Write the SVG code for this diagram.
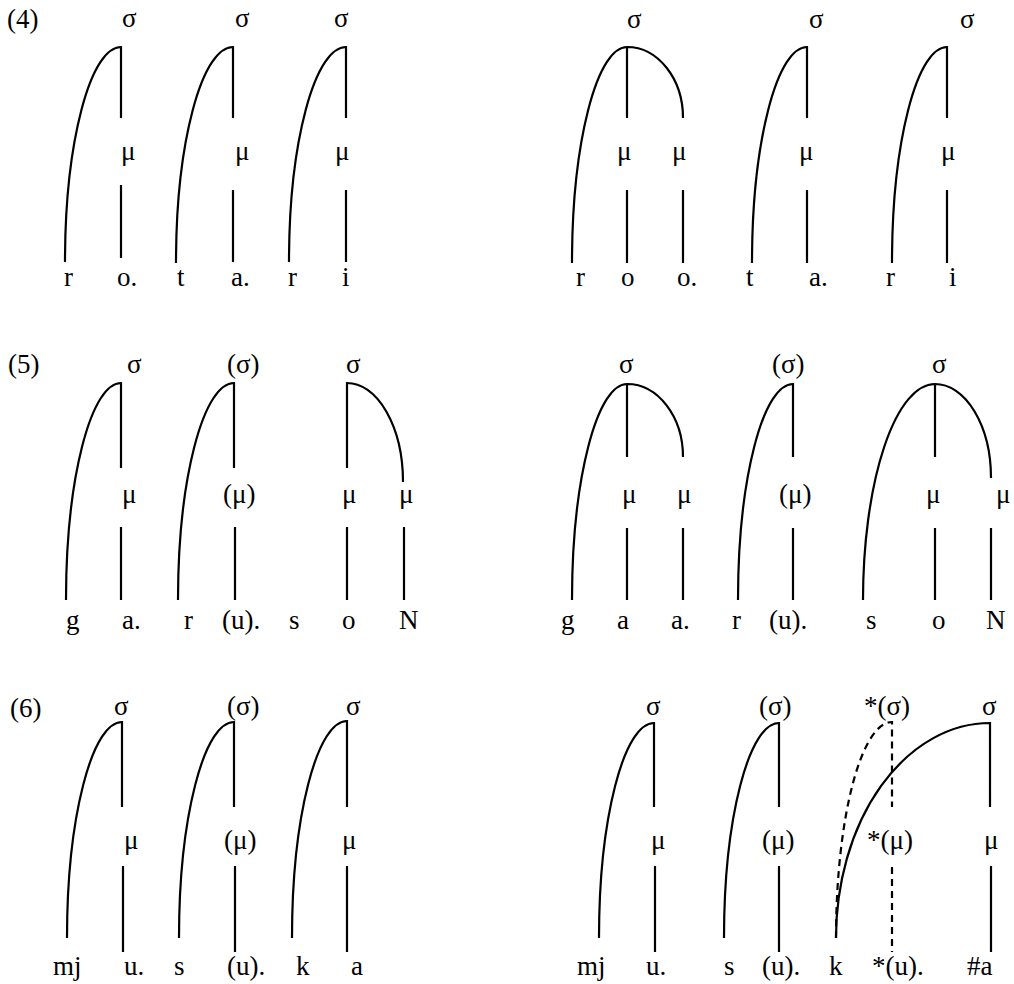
<svg xmlns="http://www.w3.org/2000/svg" width="1014" height="984" viewBox="0 0 1014 984">
  <style>
    text { font-family: "Liberation Serif", "Times New Roman", serif; font-size: 27px; fill: #000; }
    .ln { stroke: #000; stroke-width: 2.2; fill: none; }
    .ds { stroke-dasharray: 7 5; }
  </style>
  <rect width="1014" height="984" fill="#fff"/>

  <!-- association lines -->
  <g id="connectors">
    <!-- (4) left: ro.ta.ri -->
    <path class="ln" d="M65,262 A56,215 0 0 1 121,47 V118 M121,185 V258"/>
    <path class="ln" d="M176,263 A57,216 0 0 1 233,47 V118 M233,190 V262"/>
    <path class="ln" d="M289,262 A57,215 0 0 1 346,47 V118 M346,190 V262"/>
    <!-- (4) right: roo.ta.ri -->
    <path class="ln" d="M572,263 A55,216 0 0 1 627,47 A56,71 0 0 1 683,118 M627,47 V118 M627,190 V263 M683,190 V263"/>
    <path class="ln" d="M752,263 A55,216 0 0 1 807,47 V118 M807,190 V263"/>
    <path class="ln" d="M892,263 A55,216 0 0 1 947,47 V118 M947,190 V263"/>

    <!-- (5) left: ga.r(u).soN -->
    <path class="ln" d="M66,600 A55,217 0 0 1 121,383 V468 M121,527 V600"/>
    <path class="ln" d="M178,600 A56,217 0 0 1 234,383 V468 M235,527 V600"/>
    <path class="ln" d="M347,468 V383 A56,99 0 0 1 403,482 M347,527 V600 M404,527 V600"/>
    <!-- (5) right: gaa.r(u).soN -->
    <path class="ln" d="M572,600 A55,216 0 0 1 627,384 A56,73 0 0 1 683,457 M627,384 V457 M627,528 V600 M683,528 V600"/>
    <path class="ln" d="M738,600 A55,216 0 0 1 793,384 V457 M793,528 V600"/>
    <path class="ln" d="M863,600 A72,216 0 0 1 935,384 A56,94 0 0 1 991,478 M935,384 V457 M935,528 V600 M991,528 V600"/>

    <!-- (6) left: mju.s(u).ka -->
    <path class="ln" d="M67,938 A55,216 0 0 1 122,722 V807 M123,866 V952"/>
    <path class="ln" d="M179,938 A55,216 0 0 1 234,722 V807 M235,866 V952"/>
    <path class="ln" d="M292,938 A55,217 0 0 1 347,721 V807 M347,866 V952"/>
    <!-- (6) right: mju.s(u).k*(u).#a -->
    <path class="ln" d="M599,938 A55,215 0 0 1 654,723 V807 M655,866 V952"/>
    <path class="ln" d="M724,938 A55,215 0 0 1 779,723 V807 M779,866 V952"/>
    <path class="ln ds" d="M836,938 A56,216 0 0 1 892,722 V807 M892,867 V952"/>
    <path class="ln" d="M836,938 A154,215 0 0 1 990,723 V807 M991,866 V952"/>
  </g>

  <!-- (4) -->
  <g id="ex4-label"><text x="7" y="28">(4)</text></g>
  <g id="ex4L-s1"><text x="122" y="27">σ</text></g>
  <g id="ex4L-s2"><text x="235" y="27">σ</text></g>
  <g id="ex4L-s3"><text x="334" y="27">σ</text></g>
  <g id="ex4L-m1"><text x="121" y="160">μ</text></g>
  <g id="ex4L-m2"><text x="235" y="160">μ</text></g>
  <g id="ex4L-m3"><text x="335" y="160">μ</text></g>
  <g id="ex4L-r"><text x="64" y="286">r</text></g>
  <g id="ex4L-o"><text x="117" y="286">o.</text></g>
  <g id="ex4L-t"><text x="177" y="286">t</text></g>
  <g id="ex4L-a"><text x="231" y="286">a.</text></g>
  <g id="ex4L-r2"><text x="288" y="286">r</text></g>
  <g id="ex4L-i"><text x="342" y="286">i</text></g>

  <g id="ex4R-s1"><text x="627" y="28">σ</text></g>
  <g id="ex4R-s2"><text x="809" y="28">σ</text></g>
  <g id="ex4R-s3"><text x="960" y="28">σ</text></g>
  <g id="ex4R-m1"><text x="617" y="160">μ</text></g>
  <g id="ex4R-m2"><text x="672" y="160">μ</text></g>
  <g id="ex4R-m3"><text x="799" y="160">μ</text></g>
  <g id="ex4R-m4"><text x="941" y="160">μ</text></g>
  <g id="ex4R-r"><text x="576" y="286">r</text></g>
  <g id="ex4R-o1"><text x="621" y="286">o</text></g>
  <g id="ex4R-o2"><text x="677" y="286">o.</text></g>
  <g id="ex4R-t"><text x="746" y="286">t</text></g>
  <g id="ex4R-a"><text x="809" y="286">a.</text></g>
  <g id="ex4R-r2"><text x="886" y="286">r</text></g>
  <g id="ex4R-i"><text x="949" y="286">i</text></g>

  <!-- (5) -->
  <g id="ex5-label"><text x="8" y="373">(5)</text></g>
  <g id="ex5L-s1"><text x="127" y="373">σ</text></g>
  <g id="ex5L-s2"><text x="227" y="373">(σ)</text></g>
  <g id="ex5L-s3"><text x="346" y="373">σ</text></g>
  <g id="ex5L-m1"><text x="122" y="503">μ</text></g>
  <g id="ex5L-m2"><text x="223" y="503">(μ)</text></g>
  <g id="ex5L-m3"><text x="342" y="503">μ</text></g>
  <g id="ex5L-m4"><text x="399" y="503">μ</text></g>
  <g id="ex5L-g"><text x="66" y="629">g</text></g>
  <g id="ex5L-a"><text x="122" y="629">a.</text></g>
  <g id="ex5L-r"><text x="184" y="629">r</text></g>
  <g id="ex5L-u"><text x="222" y="629">(u).</text></g>
  <g id="ex5L-s"><text x="289" y="629">s</text></g>
  <g id="ex5L-o"><text x="342" y="629">o</text></g>
  <g id="ex5L-N"><text x="399" y="629">N</text></g>

  <g id="ex5R-s1"><text x="619" y="373">σ</text></g>
  <g id="ex5R-s2"><text x="772" y="373">(σ)</text></g>
  <g id="ex5R-s3"><text x="932" y="373">σ</text></g>
  <g id="ex5R-m1"><text x="622" y="503">μ</text></g>
  <g id="ex5R-m2"><text x="677" y="503">μ</text></g>
  <g id="ex5R-m3"><text x="779" y="503">(μ)</text></g>
  <g id="ex5R-m4"><text x="926" y="503">μ</text></g>
  <g id="ex5R-m5"><text x="996" y="503">μ</text></g>
  <g id="ex5R-g"><text x="561" y="629">g</text></g>
  <g id="ex5R-a1"><text x="617" y="629">a</text></g>
  <g id="ex5R-a2"><text x="671" y="629">a.</text></g>
  <g id="ex5R-r"><text x="732" y="629">r</text></g>
  <g id="ex5R-u"><text x="769" y="629">(u).</text></g>
  <g id="ex5R-s"><text x="866" y="629">s</text></g>
  <g id="ex5R-o"><text x="932" y="629">o</text></g>
  <g id="ex5R-N"><text x="986" y="629">N</text></g>

  <!-- (6) -->
  <g id="ex6-label"><text x="10" y="717">(6)</text></g>
  <g id="ex6L-s1"><text x="114" y="715">σ</text></g>
  <g id="ex6L-s2"><text x="227" y="715">(σ)</text></g>
  <g id="ex6L-s3"><text x="346" y="715">σ</text></g>
  <g id="ex6L-m1"><text x="124" y="849">μ</text></g>
  <g id="ex6L-m2"><text x="224" y="849">(μ)</text></g>
  <g id="ex6L-m3"><text x="342" y="849">μ</text></g>
  <g id="ex6L-mj"><text x="53" y="975">mj</text></g>
  <g id="ex6L-u1"><text x="124" y="975">u.</text></g>
  <g id="ex6L-s"><text x="174" y="975">s</text></g>
  <g id="ex6L-u2"><text x="227" y="975">(u).</text></g>
  <g id="ex6L-k"><text x="296" y="975">k</text></g>
  <g id="ex6L-a"><text x="351" y="975">a</text></g>

  <g id="ex6R-s1"><text x="646" y="715">σ</text></g>
  <g id="ex6R-s2"><text x="759" y="715">(σ)</text></g>
  <g id="ex6R-s3"><text x="864" y="715">*(σ)</text></g>
  <g id="ex6R-s4"><text x="982" y="715">σ</text></g>
  <g id="ex6R-m1"><text x="651" y="849">μ</text></g>
  <g id="ex6R-m2"><text x="762" y="849">(μ)</text></g>
  <g id="ex6R-m3"><text x="867" y="849">*(μ)</text></g>
  <g id="ex6R-m4"><text x="984" y="849">μ</text></g>
  <g id="ex6R-mj"><text x="577" y="975">mj</text></g>
  <g id="ex6R-u1"><text x="646" y="975">u.</text></g>
  <g id="ex6R-s"><text x="724" y="975">s</text></g>
  <g id="ex6R-u2"><text x="762" y="975">(u).</text></g>
  <g id="ex6R-k"><text x="829" y="975">k</text></g>
  <g id="ex6R-u3"><text x="872" y="975">*(u).</text></g>
  <g id="ex6R-a"><text x="967" y="975">#a</text></g>
</svg>
